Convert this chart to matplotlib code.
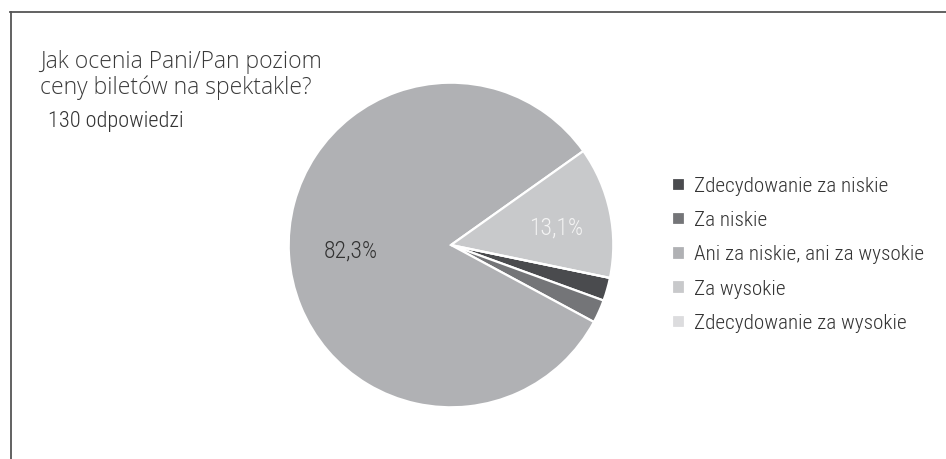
import matplotlib
matplotlib.use("Agg")
import matplotlib.pyplot as plt
from matplotlib.lines import Line2D

# data: 130 responses
categories = ["Zdecydowanie za niskie", "Za niskie", "Ani za niskie, ani za wysokie",
              "Za wysokie", "Zdecydowanie za wysokie"]
counts = [3, 3, 107, 17, 0]
colors = ["#4a4b4e", "#747578", "#b0b1b4", "#c8c9cb", "#dcdcde"]
title = "Jak ocenia Pani/Pan poziom\nceny biletów na spektakle?"
subtitle = "130 odpowiedzi"

narrow = ["Roboto Condensed", "DejaVu Sans"]
W, H = 946, 459

fig = plt.figure(figsize=(W / 100, H / 100), dpi=100)
fig.patch.set_facecolor("white")

# frame lines (top + left)
fig.add_artist(Line2D([10/W, 1], [1 - 11.5/H, 1 - 11.5/H], color="#555555", lw=1.3))
fig.add_artist(Line2D([10.5/W, 10.5/W], [0, 1 - 11.5/H], color="#555555", lw=1.3))

r = 162.3
cx, cy = 451, 245
ax = fig.add_axes([(cx - r)/W, (H - cy - r)/H, 2*r/W, 2*r/H])


def fmt(p):
    return ("%.1f%%" % p).replace(".", ",") if p > 5 else ""


wedges, texts, autotexts = ax.pie(
    counts, colors=colors, startangle=-11.7, counterclock=False,
    autopct=fmt, pctdistance=0.62,
    wedgeprops=dict(edgecolor="white", linewidth=1.6),
    textprops=dict(fontsize=17, family=narrow, fontweight="light"))
autotexts[2].set_color("#333333")
autotexts[3].set_color("#f4f4f4")
# small nudge outward for the smaller slice label
px, py = autotexts[3].get_position()
autotexts[3].set_position((px * 1.07, py * 0.8))
ax.set_xlim(-1, 1)
ax.set_ylim(-1, 1)
ax.set_aspect("equal")

fig.text(40/W, 1 - 50/H, title, fontsize=16.5, family=["Open Sans", "DejaVu Sans"],
         fontweight="light", color="#3a3a3a", va="top", linespacing=1.1)
fig.text(48/W, 1 - 111/H, subtitle, fontsize=16, family=narrow, fontweight="light",
         color="#333333", va="top")

leg = fig.legend(wedges, categories, loc="upper left",
                 bbox_to_anchor=(672/W, 1 - 177/H), frameon=False,
                 borderpad=0, borderaxespad=0,
                 prop=dict(family=narrow, size=15.2, weight="light"), handlelength=0.62,
                 handleheight=0.6, handletextpad=0.4, labelspacing=0.72)
for t in leg.get_texts():
    t.set_color("#333333")

fig.savefig("out.png", dpi=100, facecolor="white")
